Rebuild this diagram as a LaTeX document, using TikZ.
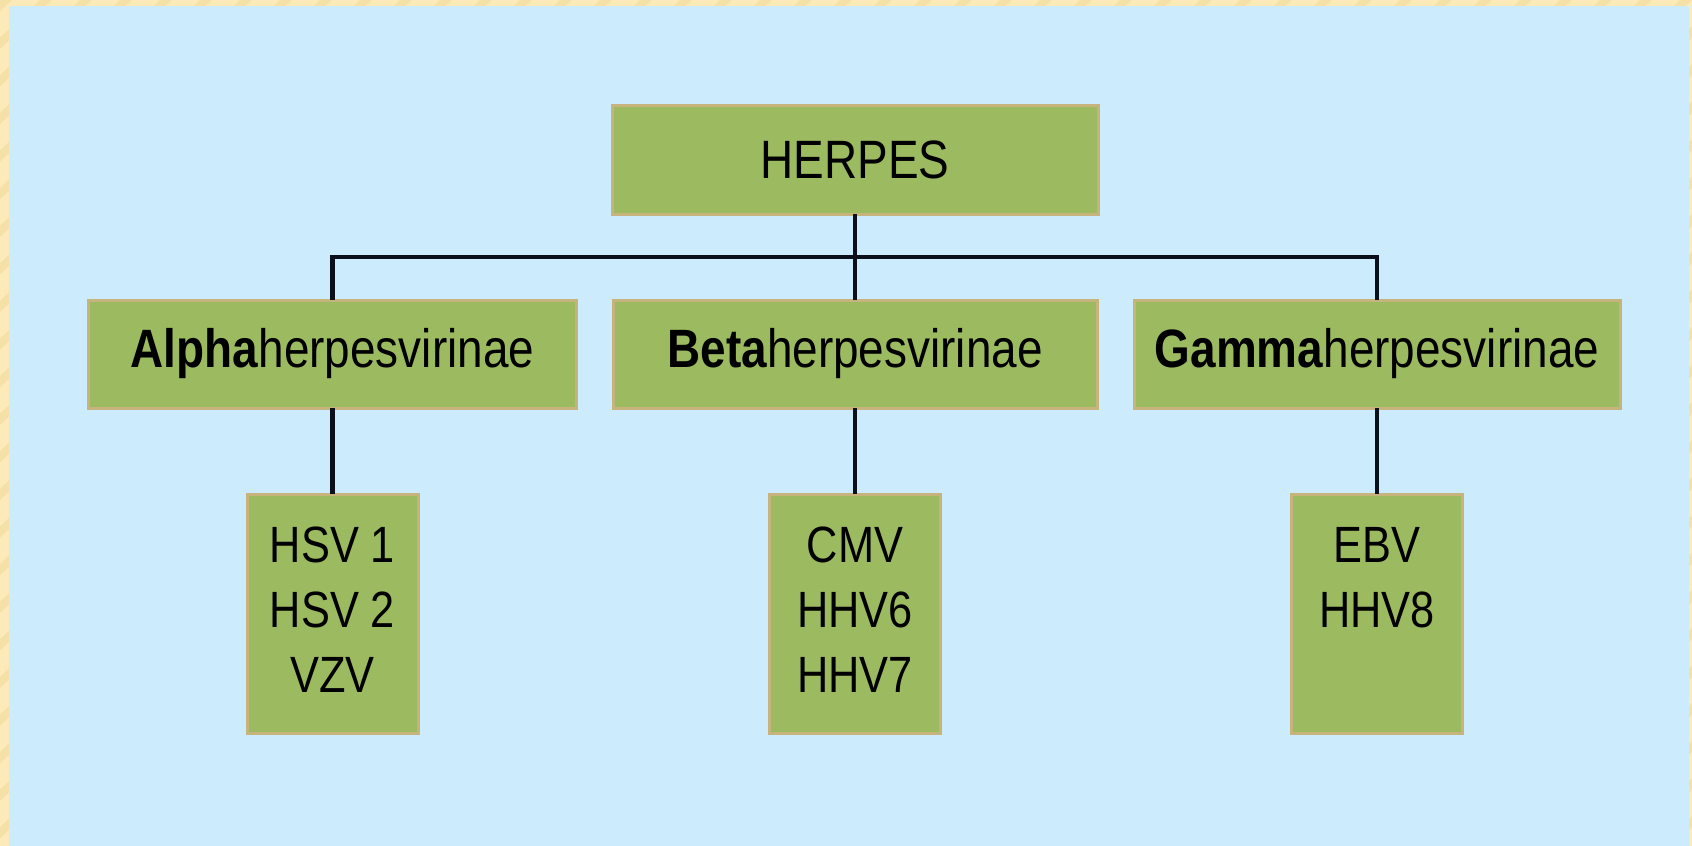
\documentclass[tikz,border=0pt]{standalone}
\usepackage{fontspec}
\newfontfamily\lab[FakeStretch=0.85]{Liberation Sans}
\definecolor{bgblue}{HTML}{CCECFE}
\definecolor{frameyel}{HTML}{FCEBB9}
\definecolor{framedark}{HTML}{EFD796}
\definecolor{boxfill}{HTML}{9CBA5F}
\definecolor{boxedge}{HTML}{C7B37C}
\definecolor{linecol}{HTML}{0B0F1A}
\tikzset{
  box/.style={draw=boxedge, line width=3pt, fill=boxfill, inner sep=0pt, outer sep=0pt,
    font=\lab\fontsize{54}{65}\selectfont, text=black},
  leaf/.style={draw=boxedge, line width=3pt, fill=boxfill, inner sep=0pt, outer sep=0pt,
    minimum width=171pt, minimum height=239pt},
  leaftext/.style={inner sep=0pt, align=center, text=black,
    font=\lab\fontsize{51}{65}\selectfont},
  link/.style={draw=linecol, line width=4.5pt, line join=miter}
}
\begin{document}
\begin{tikzpicture}[x=1pt,y=-1pt]
\useasboundingbox (0,0) rectangle (1692,846);
% frame and background
\fill[frameyel] (0,0) rectangle (1692,846);
\begin{scope}
\clip (0,0) rectangle (1692,6) (0,0) rectangle (9,846) (1689,0) rectangle (1692,846);
\foreach \k in {0,40,...,2600} {
  \fill[framedark, opacity=0.5] (\k-900,846) -- (\k-888,846) -- (\k+12,0) -- (\k,0) -- cycle;
}
\end{scope}
\fill[bgblue] (9,6) rectangle (1689,846);

% top node
\node[box, minimum width=486pt, minimum height=109pt] (herpes) at (855,159.5) {HERPES};
% second level
\node[box, minimum width=488pt, minimum height=108pt] (alpha) at (332.5,354) {\textbf{Alpha}herpesvirinae};
\node[box, minimum width=484pt, minimum height=108pt] (beta) at (855,354) {\textbf{Beta}herpesvirinae};
\node[box, minimum width=486pt, minimum height=108pt] (gamma) at (1377,354) {\textbf{Gamma}herpesvirinae};
% leaves
\node[leaf] (hsv) at (332.5,613.5) {};
\node[leaf] (cmv) at (855,613.5) {};
\node[leaf] (ebv) at (1377,613.5) {};
\node[leaftext, anchor=north] (hsvt) at ([yshift=-33pt]hsv.north) {HSV 1\\HSV 2\\VZV};
\node[leaftext, anchor=north] (cmvt) at ([yshift=-33pt]cmv.north) {CMV\\HHV6\\HHV7};
\node[leaftext, anchor=north] (ebvt) at ([yshift=-33pt]ebv.north) {EBV\\HHV8};

% connectors
\draw[link] (herpes.south) -- (beta.north);
\draw[link] (alpha.north) -- ++(0,-43) -| (gamma.north);
\draw[link] (alpha.south) -- (hsv.north);
\draw[link] (beta.south) -- (cmv.north);
\draw[link] (gamma.south) -- (ebv.north);
\end{tikzpicture}
\end{document}
